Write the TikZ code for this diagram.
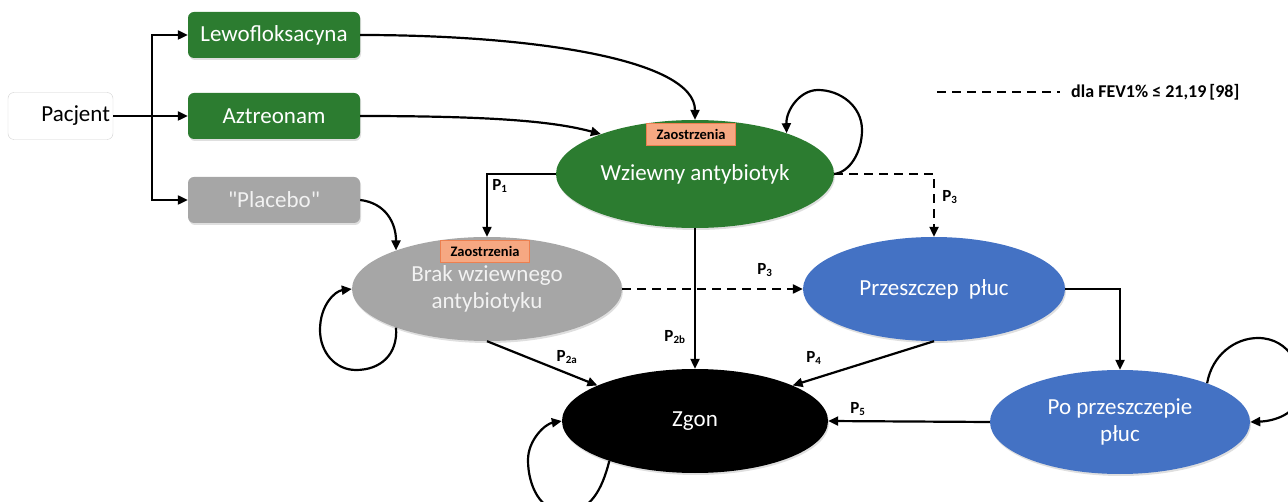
\documentclass[tikz,border=0pt]{standalone}
\usepackage{fontspec}
\setmainfont{Carlito}
\usetikzlibrary{shapes.geometric,arrows.meta,shadows}
\definecolor{grn}{RGB}{44,124,48}
\definecolor{gry}{RGB}{166,166,166}
\definecolor{blu}{RGB}{68,114,196}
\definecolor{salm}{RGB}{246,168,130}
\definecolor{salmb}{RGB}{236,128,80}
\definecolor{lgt}{RGB}{242,242,242}
\begin{document}
\begin{tikzpicture}[x=1pt,y=-1pt,
  shd/.style={drop shadow={opacity=0.25,shadow xshift=1pt,shadow yshift=-2pt}},
  box/.style={draw=none,rounded corners=6pt,minimum width=172pt,minimum height=46pt,inner sep=0pt,
    text=white,font=\fontsize{23}{26}\selectfont,shd},
  state/.style={ellipse,draw=none,inner sep=0pt,align=center,text=white,
    font=\fontsize{23}{27}\selectfont,shd},
  zao/.style={draw=salmb,fill=salm,line width=0.6pt,minimum width=89pt,minimum height=22pt,inner sep=0pt,
    font=\bfseries\fontsize{14.5}{16}\selectfont,text=black},
  arr/.style={line width=2.2pt,-{Triangle[length=10pt,width=9pt]}},
  ln/.style={line width=2.2pt},
  dsh/.style={dash pattern=on 9pt off 6pt},
  plab/.style={font=\bfseries\fontsize{17}{19}\selectfont,inner sep=0pt}
]
\useasboundingbox (0,0) rectangle (1288,502);
\newcommand{\Pl}[1]{P\textsubscript{\fontsize{11}{12}\selectfont #1}}

% boxes
\node[draw=black!18,fill=white,rounded corners=6pt,minimum width=105pt,minimum height=47pt,
  text width=99pt,align=right,inner sep=0pt,font=\fontsize{23}{26}\selectfont] (pac) at (60.5,116) {Pacjent};
\node[box,fill=grn] (lew) at (274,35) {Lewofloksacyna};
\node[box,fill=grn] (azt) at (274,116) {Aztreonam};
\node[box,fill=gry,text=lgt] (plac) at (274,200) {\addfontfeatures{Ligatures=TeXOff}"Placebo"};

% states
\node[state,fill=grn,minimum width=278pt,minimum height=108pt] (wz) at (695,174) {Wziewny antybiotyk};
\node[state,fill=gry,text=lgt,minimum width=270pt,minimum height=104pt] (brak) at (487,289) {Brak wziewnego\\antybiotyku};
\node[state,fill=blu,minimum width=262pt,minimum height=104pt] (prz) at (934,289) {Przeszczep\ \ płuc};
\node[state,fill=blu,minimum width=260pt,minimum height=104pt] (po) at (1120,422) {Po przeszczepie\\płuc};
\node[state,fill=black,minimum width=266pt,minimum height=104pt] (zg) at (695,421) {Zgon};

\node[zao] (z1) at (691,134) {Zaostrzenia};
\node[zao] (z2) at (485,251) {Zaostrzenia};

% Pacjent branching
\coordinate (sp) at (152,116);
\draw[ln] (pac.east) -- (sp);
\draw[arr] (sp) |- (lew.west);
\draw[arr] (sp) -- (azt.west);
\draw[arr] (sp) |- (plac.west);

% treatment arrows
\draw[arr] (lew.east) .. controls +(175,0) and +(0,-60) .. (wz.north);
\draw[arr] (azt.east) .. controls +(140,0) and +(-45,-12) .. (wz.157);
\draw[arr] (plac.east) .. controls +(25,3) and +(0,-28) .. (brak.157);

% transitions
\draw[arr] (wz.west) -| (brak.north);
\draw[arr] (wz.south) -- (zg.north);
\draw[arr,dsh] (wz.east) -| (prz.north);
\draw[arr,dsh] (brak.east) -- (prz.west);
\draw[arr] (brak.south) -- (zg.160);
\draw[arr] (prz.south) -- (zg.20);
\draw[arr] (prz.east) -| (po.north);
\draw[arr] (po.west) -- (zg.east);

% self loops
\draw[arr] (wz.east) .. controls (850,172) and (862,152) .. (862,130)
  .. controls (862,106) and (840,90) .. (818,90)
  .. controls (800,90) and (786,110) .. (wz.24);
\draw[arr] (brak.203) .. controls (398,355) and (380,370) .. (356,370)
  .. controls (335,370) and (320,352) .. (320,330)
  .. controls (320,305) and (335,291) .. (brak.west);
\draw[arr] (zg.205) .. controls (602,490) and (590,512) .. (565,512)
  .. controls (540,512) and (528,485) .. (528,460)
  .. controls (528,440) and (545,424) .. (zg.west);
\draw[arr] (po.24) .. controls (1212,355) and (1235,338) .. (1258,338)
  .. controls (1290,338) and (1305,370) .. (1300,395)
  .. controls (1296,414) and (1275,421) .. (po.east);

% labels
\node[plab] at (500,186) {\Pl{1}};
\node[plab] at (675,337) {\Pl{2b}};
\node[plab] at (567,357) {\Pl{2a}};
\node[plab] at (950,197) {\Pl{3}};
\node[plab] at (765,270) {\Pl{3}};
\node[plab] at (814,358) {\Pl{4}};
\node[plab] at (858,409) {\Pl{5}};

% legend
\coordinate (la) at (937,92);
\coordinate (lb) at (1060,92);
\draw[ln,dsh] (la) -- (lb);
\node[anchor=west,inner sep=0pt,font=\bfseries\fontsize{18}{20}\selectfont] (leg) at (1071,92) {dla FEV1\%\ ≤ 21,19\,[98]};
\end{tikzpicture}
\end{document}
